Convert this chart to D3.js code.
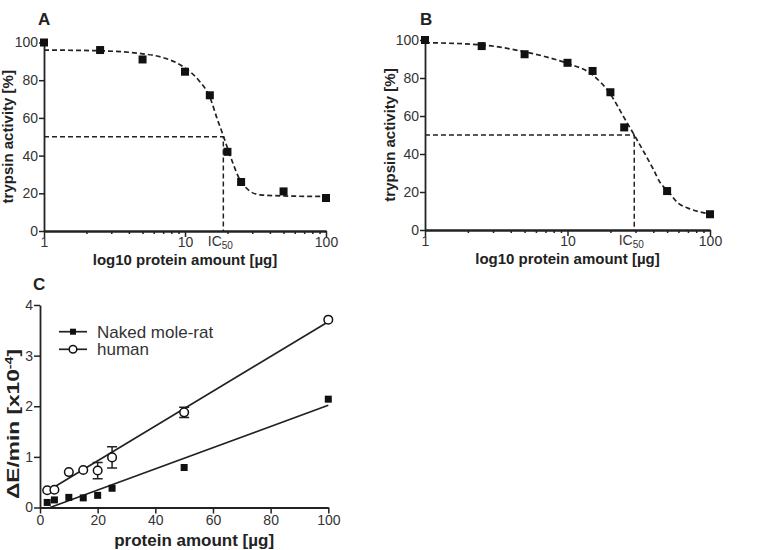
<!DOCTYPE html>
<html>
<head>
<meta charset="utf-8">
<script src="https://cdn.jsdelivr.net/npm/d3@7"></script>
<style>
  body { margin: 0; background: #fff; }
  svg { display: block; font-family: "Liberation Sans", Arial, sans-serif; }
</style>
</head>
<body>
<svg id="chart" width="759" height="550"></svg>
<script>
// panels A and B: trypsin activity vs protein amount (log axis)
var doseAB = [1, 2.5, 5, 10, 15, 20, 25, 50, 100];
var activityA = [100, 96, 91, 84.5, 72, 42, 26, 21, 17.5];
var activityB = [100, 96.8, 92.5, 88, 83.7, 72.5, 54, 20.5, 8.3];

// fitted curves
var fitDoseA = [1, 2.5, 5, 7, 10, 12.5, 15, 17, 18.7, 20, 22, 24, 26, 29, 34, 50, 100];
var fitActA  = [96, 95.6, 94, 92, 86.5, 80, 71, 59, 50.5, 44, 35.5, 28.5, 24.5, 21, 19.2, 18.6, 18.3];
var fitDoseB = [1, 2.5, 5, 7, 10, 15, 20, 25, 29.4, 35, 40, 45, 50, 60, 70, 85, 100];
var fitActB  = [98.6, 97.4, 93.8, 91.2, 87.7, 81.6, 71.5, 59, 50, 40, 32, 24.6, 21, 14, 11.5, 9.5, 8.5];
var ic50A = 18.7, ic50B = 29.4;

var yTicksAB = [0, 20, 40, 60, 80, 100];
var xMajorAB = [1, 10, 100];
var xMinorAB = [2, 3, 4, 5, 6, 7, 8, 9, 20, 30, 40, 50, 60, 70, 80, 90];

// panel C: activity vs protein amount
var proteinC = [2.5, 5, 10, 15, 20, 25, 50, 100];
var moleRat = [0.1, 0.15, 0.2, 0.19, 0.24, 0.38, 0.79, 2.14];
var moleRatErr = [0, 0, 0, 0, 0, 0, 0, 0];
var human = [0.34, 0.35, 0.70, 0.74, 0.73, 0.99, 1.88, 3.71];
var humanErr = [0, 0, 0, 0, 0.16, 0.21, 0.1, 0];
var fitXMoleRat = [3.5, 100], fitYMoleRat = [0, 2.02];
var fitXHuman = [2.5, 100], fitYHuman = [0.32, 3.67];
var seriesNames = ["Naked mole-rat", "human"];
var yTicksC = [0, 1, 2, 3, 4];
var xTicksC = [0, 20, 40, 60, 80, 100];

var svg = d3.select("#chart");
var INK = "#222", TXT = "#333";

function styleAxis(g, size) {
  g.select(".domain").attr("stroke", INK).attr("stroke-width", 1.8);
  g.selectAll(".tick line").attr("stroke", INK).attr("stroke-width", 1.5);
  g.selectAll(".tick text").attr("fill", TXT).style("font-size", (size || 14) + "px");
}

function drawDose(p) {
  var x = d3.scaleLog().domain([1, 100]).range([p.left, p.right]);
  var y = d3.scaleLinear().domain([0, 100]).range([p.bottom, p.top]);
  var g = svg.append("g");

  // IC50 guide lines
  g.append("path")
    .attr("d", "M" + x(1) + "," + y(50) + "H" + x(p.ic50) + "V" + y(0))
    .attr("fill", "none").attr("stroke", INK).attr("stroke-width", 1.5)
    .attr("stroke-dasharray", "5,3");

  var pts = p.fitX.map(function(d, i) { return [d, p.fitY[i]]; });
  g.append("path")
    .attr("d", d3.line().x(function(d) { return x(d[0]); }).y(function(d) { return y(d[1]); })
      .curve(d3.curveMonotoneX)(pts))
    .attr("fill", "none").attr("stroke", INK).attr("stroke-width", 1.7)
    .attr("stroke-dasharray", "5,3");

  var gx1 = g.append("g").attr("transform", "translate(0," + p.bottom + ")")
    .call(d3.axisBottom(x).tickValues(xMinorAB).tickSize(3).tickSizeOuter(0).tickFormat(""));
  styleAxis(gx1);
  var gx = g.append("g").attr("transform", "translate(0," + p.bottom + ")")
    .call(d3.axisBottom(x).tickValues(xMajorAB).tickSize(6).tickSizeOuter(0).tickPadding(0)
      .tickFormat(d3.format("d")));
  styleAxis(gx);
  var gy = g.append("g").attr("transform", "translate(" + p.left + ",0)")
    .call(d3.axisLeft(y).tickValues(yTicksAB).tickSize(5).tickSizeOuter(0).tickPadding(1));
  styleAxis(gy);

  g.selectAll("rect.pt").data(p.dose).enter().append("rect")
    .attr("class", "pt")
    .attr("x", function(d) { return x(d) - 4; })
    .attr("y", function(d, i) { return y(p.act[i]) - 4; })
    .attr("width", 8).attr("height", 8).attr("fill", "#111");

  var ic = g.append("text")
    .attr("x", x(p.ic50) - 3).attr("y", p.bottom + 15)
    .attr("text-anchor", "middle").attr("fill", TXT).style("font-size", "14px");
  ic.append("tspan").text("IC");
  ic.append("tspan").attr("dy", 3).style("font-size", "10px").text("50");

  g.append("text").attr("x", (p.left + p.right) / 2).attr("y", p.bottom + 34)
    .attr("text-anchor", "middle").attr("fill", INK)
    .style("font-size", "15px").style("font-weight", "bold")
    .text("log10 protein amount [\u00b5g]");
  g.append("text")
    .attr("transform", "translate(" + p.titleX + "," + (p.top + p.bottom) / 2 + ") rotate(-90)")
    .attr("text-anchor", "middle").attr("fill", INK)
    .style("font-size", "15px").style("font-weight", "bold")
    .text("trypsin activity [%]");
  g.append("text").attr("x", p.letterX).attr("y", 25).attr("fill", INK)
    .style("font-size", "17px").style("font-weight", "bold").text(p.letter);
}

drawDose({ letter: "A", letterX: 38, left: 44, right: 326, top: 42.5, bottom: 231, titleX: 13,
  dose: doseAB, act: activityA, fitX: fitDoseA, fitY: fitActA, ic50: ic50A });
drawDose({ letter: "B", letterX: 420, left: 425, right: 710, top: 40, bottom: 230, titleX: 395,
  dose: doseAB, act: activityB, fitX: fitDoseB, fitY: fitActB, ic50: ic50B });

// panel C
(function() {
  var left = 40, right = 328.3, top = 305, bottom = 507.5;
  var x = d3.scaleLinear().domain([0, 100]).range([left, right]);
  var y = d3.scaleLinear().domain([0, 4]).range([bottom, top]);
  var g = svg.append("g");

  var gx = g.append("g").attr("transform", "translate(0," + bottom + ")")
    .call(d3.axisBottom(x).tickValues(xTicksC).tickSize(6).tickSizeOuter(0).tickPadding(2));
  styleAxis(gx);
  var gy = g.append("g").attr("transform", "translate(" + left + ",0)")
    .call(d3.axisLeft(y).tickValues(yTicksC).tickSize(6).tickSizeOuter(0).tickPadding(1)
      .tickFormat(d3.format("d")));
  styleAxis(gy);

  var line = d3.line().x(function(d) { return x(d[0]); }).y(function(d) { return y(d[1]); });
  [[fitXMoleRat, fitYMoleRat], [fitXHuman, fitYHuman]].forEach(function(f) {
    g.append("path").attr("d", line(f[0].map(function(d, i) { return [d, f[1][i]]; })))
      .attr("fill", "none").attr("stroke", INK).attr("stroke-width", 1.7);
  });

  function errorBars(vals, errs) {
    proteinC.forEach(function(d, i) {
      if (!errs[i]) return;
      var cx = x(d), y1 = y(vals[i] + errs[i]), y2 = y(vals[i] - errs[i]);
      g.append("path").attr("d", "M" + cx + "," + y1 + "V" + y2 +
          "M" + (cx - 5) + "," + y1 + "H" + (cx + 5) + "M" + (cx - 5) + "," + y2 + "H" + (cx + 5))
        .attr("fill", "none").attr("stroke", INK).attr("stroke-width", 1.5);
    });
  }
  errorBars(moleRat, moleRatErr);
  errorBars(human, humanErr);

  g.selectAll("rect.nmr").data(proteinC).enter().append("rect")
    .attr("class", "nmr")
    .attr("x", function(d) { return x(d) - 3.5; })
    .attr("y", function(d, i) { return y(moleRat[i]) - 3.5; })
    .attr("width", 7).attr("height", 7).attr("fill", "#111");
  g.selectAll("circle.hum").data(proteinC).enter().append("circle")
    .attr("class", "hum")
    .attr("cx", function(d) { return x(d); })
    .attr("cy", function(d, i) { return y(human[i]); })
    .attr("r", 4.3).attr("fill", "#fff").attr("stroke", "#111").attr("stroke-width", 1.5);

  // legend
  var lg = g.append("g");
  [331.7, 349.3].forEach(function(ly, i) {
    lg.append("line").attr("x1", 59).attr("x2", 87).attr("y1", ly).attr("y2", ly)
      .attr("stroke", INK).attr("stroke-width", 1.7);
    if (i === 0) {
      lg.append("rect").attr("x", 70).attr("y", ly - 3).attr("width", 6).attr("height", 6).attr("fill", "#111");
    } else {
      lg.append("circle").attr("cx", 73).attr("cy", ly).attr("r", 3.8)
        .attr("fill", "#fff").attr("stroke", "#111").attr("stroke-width", 1.5);
    }
    lg.append("text").attr("x", 97).attr("y", ly + 6).attr("fill", TXT)
      .style("font-size", "17px").text(seriesNames[i]);
  });

  g.append("text").attr("x", (left + right) / 2 + 10).attr("y", 546)
    .attr("text-anchor", "middle").attr("fill", INK)
    .style("font-size", "17px").style("font-weight", "bold")
    .text("protein amount [\u00b5g]");
  var yt = g.append("text")
    .attr("transform", "translate(19,424) rotate(-90)")
    .attr("text-anchor", "middle").attr("fill", INK)
    .attr("textLength", 150).attr("lengthAdjust", "spacingAndGlyphs")
    .style("font-size", "16px").style("font-weight", "bold");
  yt.append("tspan").text("\u0394E/min [x10");
  yt.append("tspan").attr("dy", -6).style("font-size", "10px").text("-4");
  yt.append("tspan").attr("dy", 6).text("]");
  g.append("text").attr("x", 33).attr("y", 290).attr("fill", INK)
    .style("font-size", "17px").style("font-weight", "bold").text("C");
})();
</script>
</body>
</html>
